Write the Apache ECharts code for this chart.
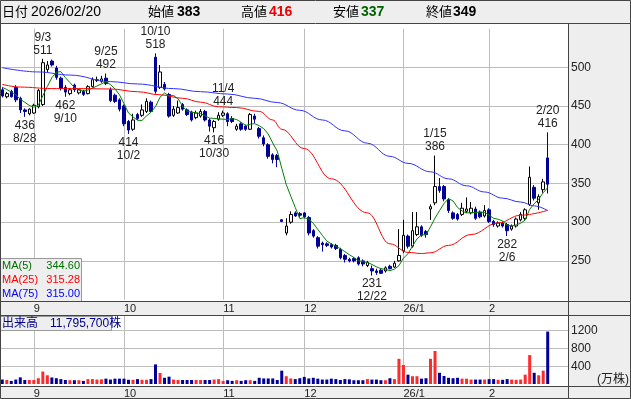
<!DOCTYPE html>
<html>
<head>
<meta charset="utf-8">
<script src="https://cdn.jsdelivr.net/npm/echarts@6/dist/echarts.min.js"></script>
<style>
html, body { margin: 0; padding: 0; background: #fff; }
#chart { width: 631px; height: 399px; }
</style>
</head>
<body>
<div id="chart"></div>
<script>
// trading days shown (2025/08/21 .. 2026/02/20)
const dates = [
  '8/21','8/22','8/25','8/26','8/27','8/28','8/29',
  '9/1','9/2','9/3','9/4','9/5','9/8','9/9','9/10','9/11','9/12','9/16','9/17','9/18','9/19','9/22','9/24','9/25','9/26','9/29','9/30',
  '10/1','10/2','10/3','10/6','10/7','10/8','10/9','10/10','10/14','10/15','10/16','10/17','10/20','10/21','10/22','10/23','10/24','10/27','10/28','10/29','10/30','10/31',
  '11/4','11/5','11/6','11/7','11/10','11/11','11/12','11/13','11/14','11/17','11/18','11/19','11/20','11/21','11/25','11/26','11/27','11/28',
  '12/1','12/2','12/3','12/4','12/5','12/8','12/9','12/10','12/11','12/12','12/15','12/16','12/17','12/18','12/19','12/22','12/23','12/24','12/25','12/26','12/29','12/30',
  '1/5','1/6','1/7','1/8','1/9','1/13','1/14','1/15','1/16','1/19','1/20','1/21','1/22','1/23','1/26','1/27','1/28','1/29','1/30',
  '2/2','2/3','2/4','2/5','2/6','2/9','2/10','2/12','2/13','2/16','2/17','2/18','2/19','2/20'
];

// [open, high, low, close]
const ohlc = [
  [471,474,461,463],[462,468,460,466],[469,471,461,462],[474,477,455,458],[460,462,441,445],
  [445,447,436,443],[440,447,438,446],[441,453,440,451],[449,472,447,470],[452,511,450,506],
  [497,508,494,503],[508,510,501,503],[499,502,484,487],[486,488,470,473],[474,477,462,468],
  [466,473,464,471],[477,479,468,471],[467,472,465,471],[469,471,463,465],[466,477,465,475],
  [475,487,474,484],[483,488,481,484],[482,489,480,485],[486,492,477,479],[471,474,455,457],
  [464,466,454,456],[458,460,443,446],[450,452,424,427],[430,432,414,419],[420,440,418,432],
  [439,441,432,434],[438,452,436,445],[443,460,441,456],[455,457,441,443],[513,518,466,469],
  [474,503,472,494],[478,481,470,472],[465,467,435,437],[438,450,436,446],[441,457,440,448],
  [452,454,444,446],[445,447,437,439],[442,444,430,432],[435,444,433,441],[437,446,435,443],
  [443,445,430,432],[432,434,417,424],[422,432,416,430],[433,442,431,438],[438,444,436,441],
  [440,442,424,430],[434,437,428,430],[420,427,418,424],[427,429,418,420],[424,426,418,420],
  [420,441,419,439],[437,440,428,433],[421,423,408,411],[409,412,398,401],[400,402,382,385],
  [387,389,376,381],[386,388,371,381],[303,304,300,301],[286,305,283,295],[300,314,298,310],
  [312,314,307,308],[311,313,306,309],[312,313,305,307],[306,308,283,286],[289,291,280,282],
  [280,282,266,269],[273,275,262,271],[272,274,268,270],[271,273,266,268],[270,272,264,266],
  [265,267,252,254],[257,259,248,252],[252,254,248,250],[253,255,248,250],[254,256,244,246],
  [250,252,243,246],[244,250,242,248],[240,244,231,237],[237,240,232,235],[238,240,233,234],
  [237,243,235,241],[243,245,239,240],[242,250,241,247],[250,291,249,257],[263,303,260,283],
  [282,284,266,269],[269,313,267,289],[284,313,282,294],[294,296,281,283],[288,290,280,284],
  [317,323,303,320],[325,386,322,346],[346,357,338,341],[346,348,327,330],[329,331,312,315],
  [312,314,303,305],[310,312,302,304],[310,325,308,318],[314,332,312,317],[312,326,310,318],
  [317,320,303,305],[313,315,305,307],[308,322,306,315],[316,318,299,301],[301,303,294,297],
  [295,301,293,299],[299,301,293,295],[297,299,282,289],[291,297,289,295],[295,306,293,304],
  [303,313,301,310],[305,318,303,316],[323,372,321,358],[345,348,328,331],[325,336,316,333],
  [342,356,338,352],[383,416,337,349]
];

// volume, 万株
const volumes = [
  100, 90, 70, 100, 150, 90, 90, 90, 130, 280,
  196, 147, 130, 110, 90, 85, 85, 85, 70, 110,
  110, 100, 105, 120, 100, 120, 120, 120, 95, 95,
  110, 95, 95, 110, 441, 250, 140, 165, 100, 90,
  90, 90, 90, 90, 90, 90, 90, 100, 110, 70,
  85, 70, 85, 70, 85, 85, 70, 140, 125, 125,
  125, 90, 300, 175, 125, 110, 130, 160, 125, 140,
  120, 100, 100, 120, 110, 90, 110, 105, 85, 85,
  85, 110, 100, 100, 85, 85, 130, 110, 567, 427,
  210, 175, 175, 120, 130, 567, 742, 252, 180, 140,
  130, 140, 120, 120, 100, 100, 100, 100, 110, 110,
  95, 95, 110, 100, 95, 100, 210, 651, 252, 196,
  300, 1179.57
];

// closes of the 4 sessions before the first drawn day (for MA5)
const priorCloses = [480, 478, 476, 474];

// moving averages: [day index, value]
const ma25Points = [
  [0,478],[4,474.5],[11,472.5],[18,472.5],[24,472],[30,468.5],[35,464.5],[40,460],[44,455],
  [48,449],[52,448],[57,443],[60,432],[62,420],[67,395],[73,356],[81,312],[86,272],[90,261],
  [93,259.5],[95,260.5],[99,270],[104,284],[110,299],[115,309],[121,315.28]
];
const ma75Points = [
  [0,499.5],[8,494],[15,490],[24,481.5],[30,478.5],[38,472.5],[44,468.5],[50,465.5],[56,460],
  [61,454.5],[66,444.5],[71,432],[76,418],[81,402],[86,385],[90,376],[95,365],[99,356],
  [103,347],[107,339],[111,331],[115,326],[118,321],[121,315]
];

const highMarks = ['9/3', '9/25', '10/10', '11/4', '1/15', '2/20'];
const lowMarks = ['8/28', '9/10', '10/2', '10/30', '12/22', '2/6'];

const monthStarts = ['9/1', '10/1', '11/4', '12/1', '1/5', '2/2'];
const monthNames = ['9', '10', '11', '12', '26/1', '2'];

const priceTicks = [250, 300, 350, 400, 450, 500];
const volumeTicks = [400, 800, 1200];

const lastDate = '2026/02/20';

const FONT = '"Liberation Sans", "Noto Sans CJK JP", sans-serif';
const UP = '#ff2a2a';
const DOWN = '#000099';
const GRID = '#bdbdbd';
const PANEL = '#eeeeee';
const FRAME = '#444';

const chart = echarts.init(document.getElementById('chart'));

const categories = dates.concat([' ', '  ', '   ', '    ']);
const candleData = ohlc.map(d => [d[0], d[3], d[2], d[1]]);
const closes = ohlc.map(d => d[3]);
const closeSeq = priorCloses.concat(closes);
const ma5 = closes.map((c, i) => {
  const j = i + priorCloses.length;
  let s = 0;
  for (let k = j - 4; k <= j; k++) s += closeSeq[k];
  return +(s / 5).toFixed(2);
});

const volumeData = volumes.map((v, i) => {
  const d = ohlc[i];
  const color = d[3] > d[0] ? UP : (d[3] < d[0] ? DOWN : '#9a9a9a');
  return { value: v, itemStyle: { color: color } };
});

const markData = [];
highMarks.forEach(d => {
  const i = dates.indexOf(d);
  markData.push({
    coord: [i, ohlc[i][1]],
    label: { position: 'top', distance: 2, formatter: d + '\n' + ohlc[i][1] }
  });
});
lowMarks.forEach(d => {
  const i = dates.indexOf(d);
  markData.push({
    coord: [i, ohlc[i][2]],
    label: { position: 'bottom', distance: 2, formatter: ohlc[i][2] + '\n' + d }
  });
});

const monthLines = {
  silent: true,
  symbol: ['none', 'none'],
  z: 1,
  label: { show: false },
  lineStyle: { color: GRID, type: 'solid', width: 1 },
  data: monthStarts.map(d => ({ xAxis: d }))
};

function fmtInt(n) {
  return String(n).replace(/\B(?=(\d{3})+(?!\d))/g, ',');
}

const last = ohlc[ohlc.length - 1];
const lastVol = Math.round(volumes[volumes.length - 1] * 10000);
const ma25Last = ma25Points[ma25Points.length - 1][1];
const ma75Last = ma75Points[ma75Points.length - 1][1];

function xAxisFor(gridIndex) {
  return {
    type: 'category',
    gridIndex: gridIndex,
    data: categories,
    boundaryGap: true,
    axisLine: { show: false },
    axisTick: { show: false },
    splitLine: { show: false },
    axisLabel: {
      interval: (i, v) => monthStarts.indexOf(v) >= 0,
      formatter: v => monthNames[monthStarts.indexOf(v)],
      align: 'left',
      margin: 4,
      fontSize: 11,
      color: '#222',
      fontFamily: FONT
    }
  };
}

function txt(text, x, y, opts) {
  return {
    type: 'text', z: 50, x: x, y: y,
    style: Object.assign({
      text: text, fill: '#000', font: '13px ' + FONT,
      verticalAlign: 'middle', align: 'left'
    }, opts || {})
  };
}

function line(x1, y1, x2, y2) {
  return {
    type: 'line', z: 60,
    shape: { x1: x1, y1: y1, x2: x2, y2: y2 },
    style: { stroke: FRAME, lineWidth: 1 }
  };
}

const VALUE_FONT = 'bold 14px ' + FONT;

const graphics = [
  { type: 'rect', z: -10, shape: { x: 0, y: 0, width: 631, height: 24 }, style: { fill: PANEL } },
  { type: 'rect', z: -10, shape: { x: 0, y: 301, width: 631, height: 15 }, style: { fill: PANEL } },
  { type: 'rect', z: -10, shape: { x: 0, y: 386, width: 631, height: 13 }, style: { fill: PANEL } },
  { type: 'rect', z: -10, shape: { x: 569, y: 24, width: 62, height: 277 }, style: { fill: PANEL } },
  { type: 'rect', z: -10, shape: { x: 569, y: 316, width: 62, height: 70 }, style: { fill: PANEL } },

  txt('日付', 2, 12),
  txt(lastDate, 31, 12, { font: '14px ' + FONT }),
  txt('始値', 148, 12),
  txt(String(last[0]), 177, 12, { font: VALUE_FONT }),
  txt('高値', 241, 12),
  txt(String(last[1]), 269, 12, { font: VALUE_FONT, fill: '#ee0000' }),
  txt('安値', 333, 12),
  txt(String(last[2]), 361, 12, { font: VALUE_FONT, fill: '#006400' }),
  txt('終値', 426, 12),
  txt(String(last[3]), 453, 12, { font: VALUE_FONT }),

  // MA legend box
  { type: 'rect', z: 40, shape: { x: 0.5, y: 258.5, width: 81, height: 43 },
    style: { fill: PANEL, stroke: '#999', lineWidth: 1 } },
  txt('MA(5)', 2, 266, { font: '11px ' + FONT, fill: '#007000' }),
  txt(ma5[ma5.length - 1].toFixed(2), 80, 266, { font: '11px ' + FONT, fill: '#007000', align: 'right' }),
  txt('MA(25)', 2, 280, { font: '11px ' + FONT, fill: '#ff0000' }),
  txt(ma25Last.toFixed(2), 80, 280, { font: '11px ' + FONT, fill: '#ff0000', align: 'right' }),
  txt('MA(75)', 2, 294, { font: '11px ' + FONT, fill: '#0000ff' }),
  txt(ma75Last.toFixed(2), 80, 294, { font: '11px ' + FONT, fill: '#0000ff', align: 'right' }),

  // volume title box
  { type: 'rect', z: 40, shape: { x: 0.5, y: 316.5, width: 111, height: 14 },
    style: { fill: PANEL, stroke: '#999', lineWidth: 1 } },
  txt('出来高　' + fmtInt(lastVol) + '株', 2, 323.5, { font: '12px ' + FONT, fill: '#00008b' }),
  txt('(万株)', 597, 380, { font: '12px ' + FONT, fill: '#222' }),

  // frame
  { type: 'rect', z: 60, shape: { x: 0.5, y: 0.5, width: 630, height: 398 },
    style: { fill: 'none', stroke: FRAME, lineWidth: 1 } },
  line(0, 23.5, 631, 23.5),
  line(0, 301.5, 631, 301.5),
  line(0, 315.5, 631, 315.5),
  line(0, 386.5, 631, 386.5),
  line(568.5, 24, 568.5, 399)
];

const option = {
  animation: false,
  textStyle: { fontFamily: FONT },
  grid: [
    { left: 0, width: 568, top: 28.6, height: 271 },
    { left: 0, width: 568, top: 316, height: 68 }
  ],
  xAxis: [xAxisFor(0), xAxisFor(1)],
  yAxis: [
    {
      type: 'value', gridIndex: 0, position: 'right',
      min: 200, max: 550, interval: 50,
      axisLine: { show: false }, axisTick: { show: false },
      splitLine: { showMinLine: false, showMaxLine: false, lineStyle: { color: GRID } },
      axisLabel: {
        margin: 3, fontSize: 12, color: '#222', fontFamily: FONT,
        formatter: v => priceTicks.indexOf(v) >= 0 ? String(v) : ''
      }
    },
    {
      type: 'value', gridIndex: 1, position: 'right',
      min: 0, max: 1530, interval: 400,
      axisLine: { show: false }, axisTick: { show: false },
      splitLine: { showMinLine: false, showMaxLine: false, lineStyle: { color: GRID } },
      axisLabel: {
        margin: 3, fontSize: 12, color: '#222', fontFamily: FONT,
        formatter: v => volumeTicks.indexOf(v) >= 0 ? String(v) : ''
      }
    }
  ],
  series: [
    {
      name: 'price', type: 'candlestick', xAxisIndex: 0, yAxisIndex: 0,
      barWidth: 3,
      data: candleData,
      itemStyle: {
        color: '#ffffff', color0: DOWN,
        borderColor: '#000000', borderColor0: DOWN, borderWidth: 1
      },
      markLine: monthLines,
      markPoint: {
        symbol: 'circle', symbolSize: 0, silent: true,
        label: { color: '#222', fontSize: 12, lineHeight: 13, fontFamily: FONT },
        data: markData
      }
    },
    {
      name: 'MA5', type: 'line', xAxisIndex: 0, yAxisIndex: 0,
      data: ma5, symbol: 'none', silent: true,
      lineStyle: { color: '#008000', width: 1 }
    },
    {
      name: 'MA25', type: 'line', xAxisIndex: 0, yAxisIndex: 0,
      data: ma25Points, symbol: 'none', silent: true,
      smooth: 0.4, smoothMonotone: 'x',
      lineStyle: { color: '#ff0000', width: 1 }
    },
    {
      name: 'MA75', type: 'line', xAxisIndex: 0, yAxisIndex: 0,
      data: ma75Points, symbol: 'none', silent: true,
      smooth: 0.4, smoothMonotone: 'x',
      lineStyle: { color: '#3030ff', width: 1 }
    },
    {
      name: 'volume', type: 'bar', xAxisIndex: 1, yAxisIndex: 1,
      barWidth: 3,
      data: volumeData,
      markLine: monthLines
    }
  ],
  graphic: graphics
};

chart.setOption(option);
</script>
</body>
</html>
